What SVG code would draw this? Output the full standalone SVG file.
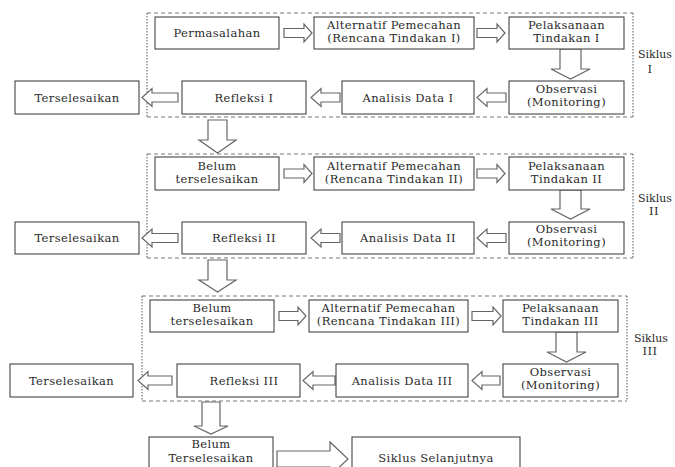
<svg xmlns="http://www.w3.org/2000/svg" width="675" height="467" viewBox="0 0 675 467">
<style>
.box{fill:#fff;stroke:#333;stroke-width:1}
.arr{fill:#fff;stroke:#666;stroke-width:1.2}
.dh{stroke:#777;stroke-width:1;stroke-dasharray:4 3;fill:none}
.dv{stroke:#555;stroke-width:1;stroke-dasharray:1.5 1.5;fill:none}
text{font-family:"DejaVu Serif","Liberation Serif",serif;font-size:11.5px;fill:#2a2a2a;text-anchor:middle;letter-spacing:0.4px}
text.sk{text-anchor:start;letter-spacing:0;font-size:11px}
</style>
<rect width="675" height="467" fill="#fff"/>
<g id="frames">
<path class="dh" d="M147,13H633M147,117H633"/>
<path class="dv" d="M147,13V117M633,13V117"/>
<path class="dh" d="M147,154H633M147,258H633"/>
<path class="dv" d="M147,154V258M633,154V258"/>
<path class="dh" d="M142,296H627M142,401H627"/>
<path class="dv" d="M142,296V401M627,296V401"/>
</g>
<g id="connectors">
<path class="arr" d="M284,28.5H304V24L312,33L304,42V37.5H284Z"/>
<path class="arr" d="M477,28.5H497V24L505,33L497,42V37.5H477Z"/>
<path class="arr" d="M560,49H581V69H590L570.5,79L551,69H560Z"/>
<path class="arr" d="M506,93H487V88.5L477,97.5L487,106.5V102H506Z"/>
<path class="arr" d="M340,93H321V88.5L311,97.5L321,106.5V102H340Z"/>
<path class="arr" d="M178,93H152V88.5L142,97.5L152,106.5V102H178Z"/>
<path class="arr" d="M208,120H227V140H236L217.5,153L199,140H208Z"/>
<path class="arr" d="M284,169H304V164.5L312,173.5L304,182.5V178H284Z"/>
<path class="arr" d="M477,169H497V164.5L505,173.5L497,182.5V178H477Z"/>
<path class="arr" d="M560,190H581V209H590L570.5,219L551,209H560Z"/>
<path class="arr" d="M506,233.5H487V229L477,238L487,247V242.5H506Z"/>
<path class="arr" d="M340,233.5H321V229L311,238L321,247V242.5H340Z"/>
<path class="arr" d="M178,233.5H152V229L142,238L152,247V242.5H178Z"/>
<path class="arr" d="M208,260H227V280H236L217.5,292L199,280H208Z"/>
<path class="arr" d="M279,311.5H298V307L306,316L298,325V320.5H279Z"/>
<path class="arr" d="M472,311.5H493V307L501,316L493,325V320.5H472Z"/>
<path class="arr" d="M556,332H577V352H586L566.5,362L547,352H556Z"/>
<path class="arr" d="M500,376H482V371.5L472,380.5L482,389.5V385H500Z"/>
<path class="arr" d="M335,376H313V371.5L303,380.5L313,389.5V385H335Z"/>
<path class="arr" d="M172,376H148V371.5L138,380.5L148,389.5V385H172Z"/>
<path class="arr" d="M202,402H220V426H228L211,434L194,426H202Z"/>
<path class="arr" d="M277,451H330V442L348,459L330,476V467H277Z"/>
</g>
<g id="n1-permasalahan"><rect class="box" x="155" y="17" width="124" height="32"/><text x="217" y="37">Permasalahan</text></g>
<g id="n1-alternatif"><rect class="box" x="314" y="17" width="160" height="32"/><text x="394" y="29">Alternatif Pemecahan</text><text x="394" y="42">(Rencana Tindakan I)</text></g>
<g id="n1-pelaksanaan"><rect class="box" x="509" y="17" width="115" height="32"/><text x="566.5" y="29">Pelaksanaan</text><text x="566.5" y="42">Tindakan I</text></g>
<g id="n1-observasi"><rect class="box" x="509" y="81" width="115" height="33"/><text x="566.5" y="93">Observasi</text><text x="566.5" y="106">(Monitoring)</text></g>
<g id="n1-analisis"><rect class="box" x="342" y="81" width="132" height="33"/><text x="408" y="101.5">Analisis Data I</text></g>
<g id="n1-refleksi"><rect class="box" x="182" y="81" width="124" height="33"/><text x="244" y="101.5">Refleksi I</text></g>
<g id="n1-terselesaikan"><rect class="box" x="15" y="81" width="124" height="33"/><text x="77" y="101.5">Terselesaikan</text></g>
<g id="siklus1"><text class="sk" x="638" y="58">Siklus</text><text x="650" y="73">I</text></g>

<g id="n2-belum"><rect class="box" x="155" y="157" width="124" height="33"/><text x="217" y="170">Belum</text><text x="217" y="183">terselesaikan</text></g>
<g id="n2-alternatif"><rect class="box" x="314" y="157" width="160" height="33"/><text x="394" y="170">Alternatif Pemecahan</text><text x="394" y="183">(Rencana Tindakan II)</text></g>
<g id="n2-pelaksanaan"><rect class="box" x="509" y="157" width="115" height="33"/><text x="566.5" y="170">Pelaksanaan</text><text x="566.5" y="183">Tindakan II</text></g>
<g id="n2-observasi"><rect class="box" x="509" y="222" width="115" height="32"/><text x="566.5" y="233">Observasi</text><text x="566.5" y="246">(Monitoring)</text></g>
<g id="n2-analisis"><rect class="box" x="342" y="222" width="132" height="32"/><text x="408" y="242">Analisis Data II</text></g>
<g id="n2-refleksi"><rect class="box" x="182" y="222" width="124" height="32"/><text x="244" y="242">Refleksi II</text></g>
<g id="n2-terselesaikan"><rect class="box" x="15" y="222" width="124" height="32"/><text x="77" y="242">Terselesaikan</text></g>
<g id="siklus2"><text class="sk" x="638" y="202">Siklus</text><text x="654" y="215">II</text></g>

<g id="n3-belum"><rect class="box" x="150" y="300" width="124" height="32"/><text x="212" y="312">Belum</text><text x="212" y="325">terselesaikan</text></g>
<g id="n3-alternatif"><rect class="box" x="309" y="300" width="159" height="32"/><text x="388.5" y="312">Alternatif Pemecahan</text><text x="388.5" y="325">(Rencana Tindakan III)</text></g>
<g id="n3-pelaksanaan"><rect class="box" x="503" y="300" width="115" height="32"/><text x="560.5" y="312">Pelaksanaan</text><text x="560.5" y="325">Tindakan III</text></g>
<g id="n3-observasi"><rect class="box" x="503" y="364" width="115" height="33"/><text x="560.5" y="376">Observasi</text><text x="560.5" y="389">(Monitoring)</text></g>
<g id="n3-analisis"><rect class="box" x="336" y="364" width="132" height="33"/><text x="402" y="384.5">Analisis Data III</text></g>
<g id="n3-refleksi"><rect class="box" x="177" y="364" width="123" height="33"/><text x="244" y="384.5">Refleksi III</text></g>
<g id="n3-terselesaikan"><rect class="box" x="10" y="364" width="123" height="33"/><text x="71.5" y="384.5">Terselesaikan</text></g>
<g id="siklus3"><text class="sk" x="634" y="342">Siklus</text><text x="650" y="355">III</text></g>

<g id="n4-belum"><rect class="box" x="149" y="437" width="124" height="40"/><text x="211" y="448">Belum</text><text x="211" y="462">Terselesaikan</text></g>
<g id="n4-selanjutnya"><rect class="box" x="352" y="437" width="168" height="40"/><text x="436" y="462">Siklus Selanjutnya</text></g>
</svg>
